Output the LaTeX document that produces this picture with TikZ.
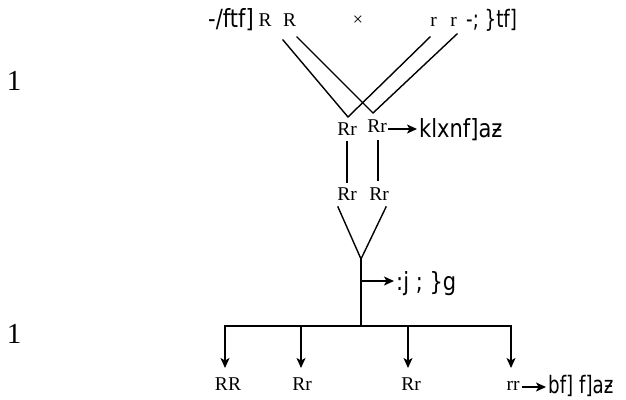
\documentclass[tikz,border=0pt]{standalone}
\usepackage{fontspec}
\setmainfont{Liberation Serif}
\newfontfamily\sansc[FakeStretch=0.84]{DejaVu Sans}
\newfontfamily\sanscn[FakeStretch=0.76]{DejaVu Sans}
\usetikzlibrary{arrows.meta}

\begin{document}
\begin{tikzpicture}[x=1pt,y=-1pt,
  wire/.style={line width=1.4pt,line cap=rect},
  arr/.style={line width=1.4pt,-{Stealth[length=10pt,width=9pt,inset=2.5pt]}},
  lab/.style={inner sep=0pt,anchor=base,font=\fontsize{19.5}{19.5}\selectfont},
  txt/.style={inner sep=0pt,anchor=base west,font=\sansc\fontsize{25}{25}\selectfont},
  txtn/.style={inner sep=0pt,anchor=base west,font=\sanscn\fontsize{24}{24}\selectfont},
  num/.style={inner sep=0pt,anchor=base,font=\fontsize{29}{29}\selectfont}]
\useasboundingbox (0,0) rectangle (626,399);

% generation markers on the left
\node[num] (g1) at (14,90) {1};
\node[num] (g2) at (14,343) {1};

% parents
\node[txt] (pa) at (208,27) {-/ftf]};
\node[lab] (pa1) at (265,26) {R};
\node[lab] (pa2) at (289.5,26) {R};
\node[inner sep=0pt,font=\fontsize{18}{18}\selectfont] (cross) at (358,21) {×};
\node[lab] (pb1) at (433.5,26) {r};
\node[lab] (pb2) at (453.5,26) {r};
\node[txtn] (pb) at (466,27) {-; \}tf]};

% crossing lines
\coordinate (v1l) at (283,40);
\coordinate (v1)  at (348,117);
\coordinate (v1r) at (430,37);
\coordinate (v2l) at (297,37);
\coordinate (v2)  at (373,113);
\coordinate (v2r) at (457,34);
\draw[wire] (v1l) -- (v1) -- (v1r);
\draw[wire] (v2l) -- (v2) -- (v2r);

% first generation
\node[lab] (f1a) at (347,135) {Rr};
\node[lab] (f1b) at (377,132) {Rr};
\node[txt] (k1) at (419,137) {klxnf]aƶ};
\coordinate (k1s) at (388,129);
\draw[arr,shorten >=2pt] (k1s) -- (k1.west |- k1s);

% selfing lines
\coordinate (s1t) at (347,142);
\coordinate (s1b) at (347,182);
\coordinate (s2t) at (378,141);
\coordinate (s2b) at (378,180);
\draw[wire] (s1t) -- (s1b);
\draw[wire] (s2t) -- (s2b);

\node[lab] (f1c) at (347,200) {Rr};
\node[lab] (f1d) at (379,200) {Rr};

% merge into the second generation
\coordinate (yl) at (338,207);
\coordinate (yr) at (386,207);
\coordinate (yv) at (361,259);
\coordinate (jn) at (361,326);
\draw[wire] (yl) -- (yv) -- (yr);
\draw[wire] (yv) -- (jn);

\node[txt] (sg) at (396,290) {:j ; \}g};
\coordinate (sgs) at (362,281);
\draw[arr,shorten >=2pt] (sgs) -- (sg.west |- sgs);

% branches to the offspring
\coordinate (d1) at (225,326);
\coordinate (d2) at (301,326);
\coordinate (d3) at (408,326);
\coordinate (d4) at (511,326);
\draw[wire] (d1) -- (d4);
\node[lab] (o1) at (228,390) {RR};
\node[lab] (o2) at (302,390) {Rr};
\node[lab] (o3) at (411,390) {Rr};
\node[lab] (o4) at (513,390) {rr};
\coordinate (t1) at (225,368);
\coordinate (t2) at (301,368);
\coordinate (t3) at (408,368);
\coordinate (t4) at (511,368);
\draw[arr] (d1) -- (t1);
\draw[arr] (d2) -- (t2);
\draw[arr] (d3) -- (t3);
\draw[arr] (d4) -- (t4);

\node[txtn] (bt) at (548,393) {bf] f]aƶ};
\coordinate (bts) at (522,387);
\draw[arr,shorten >=2pt] (bts) -- (bt.west |- bts);
\end{tikzpicture}
\end{document}
